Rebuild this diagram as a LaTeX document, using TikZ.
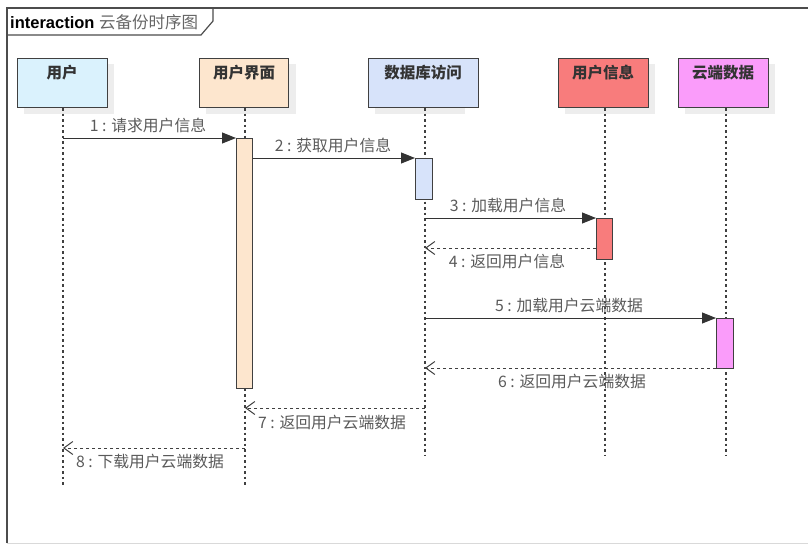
\documentclass[tikz,border=0pt]{standalone}
\usepackage{fontspec}
\setmainfont{Liberation Sans}
\newfontfamily\cjk{Noto Sans CJK SC}
\usetikzlibrary{arrows.meta}
\definecolor{cUser}{HTML}{DAF2FD}
\definecolor{cUI}{HTML}{FDE6CE}
\definecolor{cDB}{HTML}{D7E3FA}
\definecolor{cInfo}{HTML}{F87C7C}
\definecolor{cCloud}{HTML}{FA9CFA}
\definecolor{edge}{HTML}{404040}
\definecolor{lbl}{HTML}{5A5A5A}
\tikzset{
  head/.style={draw=edge, line width=1.1pt, minimum width=90pt, minimum height=49pt, anchor=north west, inner sep=0pt},
  headtxt/.style={font=\cjk\bfseries\fontsize{15.5}{18}\selectfont, text=black!80},
  shadowbox/.style={fill=black!7, draw=none},
  bar/.style={draw=edge, line width=0.9pt, anchor=north west, inner sep=0pt, minimum width=16pt},
  life/.style={draw=edge, line width=1.2pt, dash pattern=on 2.5pt off 3pt},
  msg/.style={draw=black!80, line width=1pt, -{Triangle[length=14pt,width=11pt]}},
  ret/.style={draw=black!75, line width=1pt, dash pattern=on 3pt off 3pt, -{Straight Barb[length=9pt,width=13pt,line width=1pt]}},
  mlabel/.style={font=\cjk\fontsize{15.8}{18}\selectfont, text=lbl, inner sep=0pt},
}
\begin{document}
\begin{tikzpicture}[x=1pt,y=-1pt]
\useasboundingbox (0,0) rectangle (808,544);
% frame
\draw[black!15, line width=1pt] (7,543) -- (808,543);
\draw[black!70, line width=1.2pt] (7,543) -- (7,8) -- (808,8);
\draw[black!70, line width=1.2pt] (7,35) -- (201,35) -- (213,21) -- (213,8);
\node[anchor=west, inner sep=0pt] (title) at (10,22) {\fontsize{16.5}{19}\selectfont\bfseries interaction\ \cjk\mdseries\color{black!60}云备份时序图};

% shadows
\foreach \x in {17,199,368,558,678} \fill[shadowbox] (\x+7,64) rectangle (\x+97,114);

% heads
\node[head, fill=cUser] (hU) at (17,58) {};
\node[head, fill=cUI, minimum width=89pt] (hUI) at (199,58) {};
\node[head, fill=cDB, minimum width=110pt] (hDB) at (368,58) {};
\node[head, fill=cInfo] (hI) at (558,58) {};
\node[head, fill=cCloud] (hC) at (678,58) {};
\node[headtxt] at (62,73) {用户};
\node[headtxt] at (244,73) {用户界面};
\node[headtxt] at (423,73) {数据库访问};
\node[headtxt] at (603,73) {用户信息};
\node[headtxt] at (723,73) {云端数据};

% lifelines
\coordinate (uTop) at (63,108);  \coordinate (uBot) at (63,487);
\coordinate (iTop) at (245,108); \coordinate (iBot) at (245,487);
\coordinate (dTop) at (425,108); \coordinate (dBot) at (425,455);
\coordinate (nTop) at (605,108); \coordinate (nBot) at (605,455);
\coordinate (cTop) at (726,108); \coordinate (cBot) at (726,455);
\draw[life] (uTop) -- (uBot);
\draw[life] (iTop) -- (iBot);
\draw[life] (dTop) -- (dBot);
\draw[life] (nTop) -- (nBot);
\draw[life] (cTop) -- (cBot);

% activation bars
\node[bar, fill=cUI, minimum height=250pt, minimum width=16pt] (bUI) at (236,138) {};
\node[bar, fill=cDB, minimum height=41pt, minimum width=17pt] (bDB) at (415,158) {};
\node[bar, fill=cInfo, minimum height=41pt, minimum width=16pt] (bI) at (596,218) {};
\node[bar, fill=cCloud, minimum height=50pt, minimum width=17pt] (bC) at (716,318) {};

% message anchors
\coordinate (m1s) at (63,138);
\coordinate (m3s) at (425,218);
\coordinate (m4e) at (425,248);
\coordinate (m5s) at (425,318);
\coordinate (m6e) at (425,368);
\coordinate (m7s) at (425,408);
\coordinate (m7e) at (245,408);
\coordinate (m8s) at (245,448);
\coordinate (m8e) at (63,448);

\draw[msg] (m1s) -- (bUI.north west);
\draw[msg] (bUI.north east |- 0,158) -- (bDB.north west);
\draw[msg] (m3s) -- (bI.north west);
\draw[ret] (bI.west |- m4e) -- (m4e);
\draw[msg] (m5s) -- (bC.north west);
\draw[ret] (bC.west |- m6e) -- (m6e);
\draw[ret] (m7s) -- (m7e);
\draw[ret] (m8s) -- (m8e);

% labels
\node[mlabel] (l1) at (148,125) {1 : 请求用户信息};
\node[mlabel] (l2) at (333,145) {2 : 获取用户信息};
\node[mlabel] (l3) at (508,205) {3 : 加载用户信息};
\node[mlabel] (l4) at (507,261) {4 : 返回用户信息};
\node[mlabel] (l5) at (569,305) {5 : 加载用户云端数据};
\node[mlabel] (l6) at (572,381) {6 : 返回用户云端数据};
\node[mlabel] (l7) at (332,422) {7 : 返回用户云端数据};
\node[mlabel] (l8) at (150,461) {8 : 下载用户云端数据};
\end{tikzpicture}
\end{document}
